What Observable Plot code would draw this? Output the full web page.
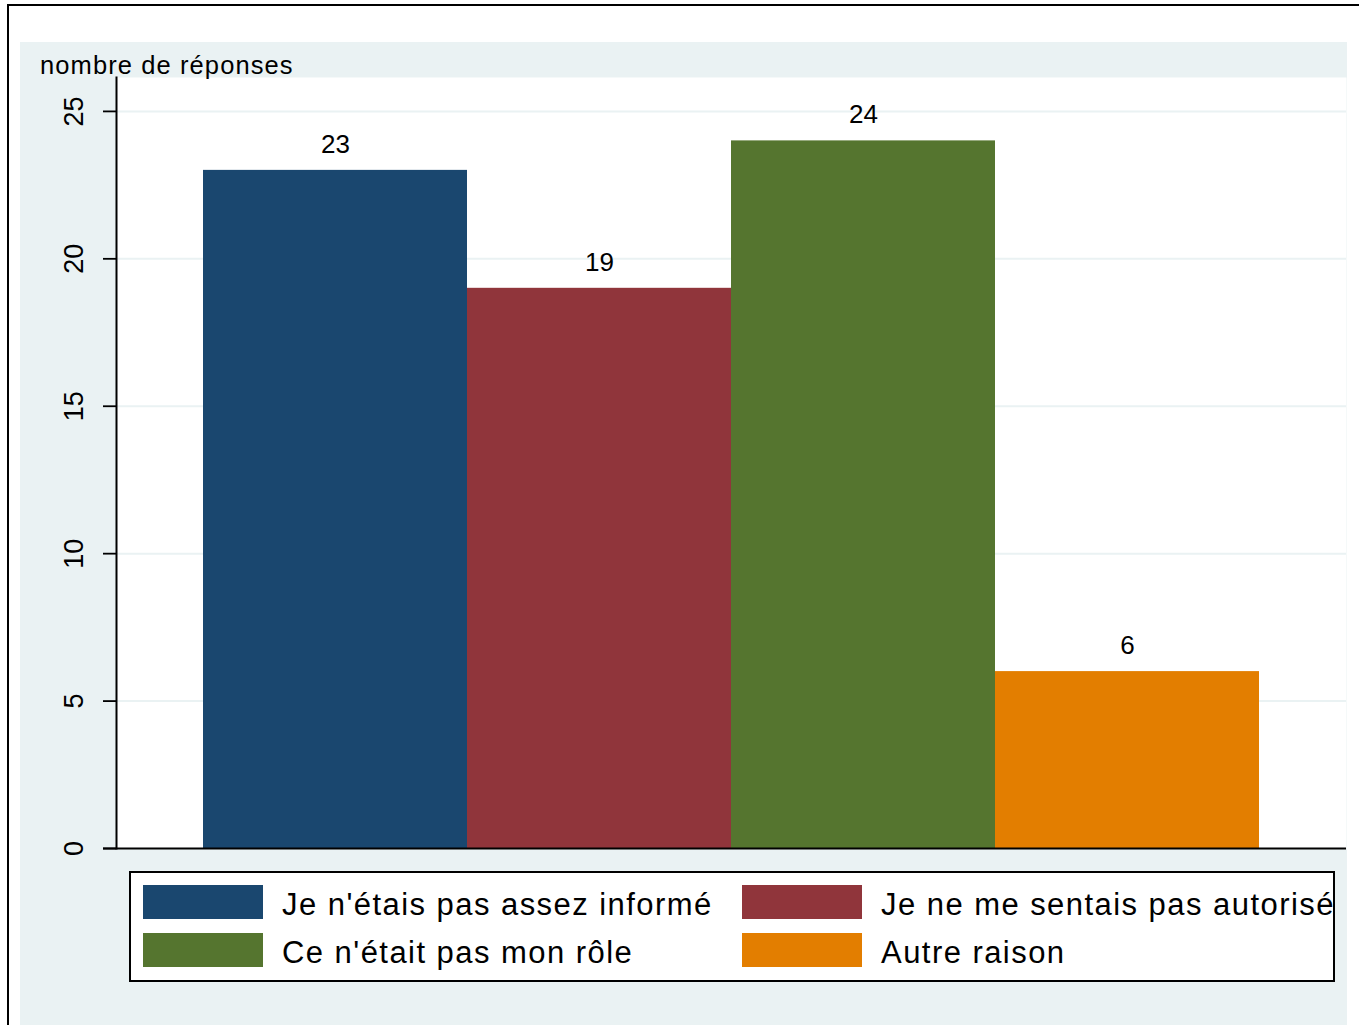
<!DOCTYPE html>
<html>
<head>
<meta charset="utf-8">
<script src="https://cdn.jsdelivr.net/npm/d3@7"></script>
<script src="https://cdn.jsdelivr.net/npm/@observablehq/plot@0.6"></script>
<style>
  body { margin: 0; background: #ffffff; font-family: "Liberation Sans", Arial, sans-serif; }
  #page { position: relative; width: 1359px; height: 1025px; overflow: hidden; background: #ffffff; }
  #frame { position: absolute; left: 7px; top: 4px; width: 1500px; height: 1200px; border-top: 2px solid #000; border-left: 2px solid #000; }
  #bg { position: absolute; left: 20px; top: 42px; width: 1327px; height: 1100px; background: #eaf2f3; }
  #chart { position: absolute; left: 20px; top: 42px; }
  #ytitle { position: absolute; left: 40px; top: 53px; font-size: 25.5px; line-height: 1; letter-spacing: 1.1px; color: #000; white-space: nowrap; }
  #legend { position: absolute; left: 129px; top: 871px; width: 1202px; height: 107px; border: 2px solid #000; background: #fff; }
  .sw { position: absolute; width: 120px; height: 34px; }
  .lt { position: absolute; font-size: 31px; line-height: 1; letter-spacing: 1.45px; color: #000; white-space: nowrap; }
</style>
</head>
<body>
<div id="page">
  <div id="frame"></div>
  <div id="bg"></div>
  <div id="chart"></div>
  <div id="ytitle">nombre de réponses</div>
  <div id="legend"></div>
</div>
<script>
const categories = [
  "Je n'étais pas assez informé",
  "Je ne me sentais pas autorisé",
  "Ce n'était pas mon rôle",
  "Autre raison"
];
const values = [23, 19, 24, 6];
const colors = ["#1a476f", "#90353b", "#55752f", "#e37e00"];
const yTicks = [0, 5, 10, 15, 20, 25];
const yTitle = "nombre de réponses";

const data = categories.map((c, i) => ({cat: c, value: values[i]}));

const chart = Plot.plot({
  width: 1327,
  height: 818,
  marginLeft: 96,
  marginRight: 1,
  marginTop: 35,
  marginBottom: 12,
  style: { fontFamily: "'Liberation Sans', Arial, sans-serif", background: "transparent", overflow: "visible" },
  x: { type: "band", domain: categories, paddingInner: 0, paddingOuter: 0.327, align: 0.5, axis: null },
  y: { domain: [0, 26.15], axis: null },
  color: { domain: categories, range: colors },
  marks: [
    Plot.frame({ fill: "#ffffff", stroke: null }),
    Plot.gridY(yTicks.slice(1), { stroke: "#eaf2f3", strokeOpacity: 1, strokeWidth: 2 }),
    Plot.barY(data, { x: "cat", y: "value", fill: "cat" }),
    Plot.text(data, { x: "cat", y: "value", text: d => String(d.value), dy: -26, fontSize: 26, fill: "#000" }),
    Plot.axisY({ ticks: yTicks, tickSize: 13, tickFormat: () => "", label: null, stroke: "#000", strokeWidth: 1.8 }),
    Plot.text(yTicks, { y: d => d, text: d => String(d), frameAnchor: "left", dx: -42, rotate: -90, fontSize: 27, fill: "#000", textAnchor: "middle" }),
    Plot.frame({ anchor: "left", stroke: "#000", strokeWidth: 2 }),
    Plot.ruleY([0], { stroke: "#000", strokeWidth: 2, insetLeft: -13 })
  ]
});
document.getElementById("chart").appendChild(chart);

// legend (HTML, drawn below the svg's plot area)
const page = document.getElementById("page");
categories.forEach((c, k) => {
  const col = k % 2, row = Math.floor(k / 2);
  const sw = document.createElement("div");
  sw.className = "sw";
  sw.style.left = (143 + col * 599) + "px";
  sw.style.top = (885 + row * 48) + "px";
  sw.style.background = colors[k];
  page.appendChild(sw);
  const t = document.createElement("div");
  t.className = "lt";
  t.style.left = (282 + col * 599) + "px";
  t.style.top = (889 + row * 48) + "px";
  t.textContent = c;
  page.appendChild(t);
});
</script>
</body>
</html>
